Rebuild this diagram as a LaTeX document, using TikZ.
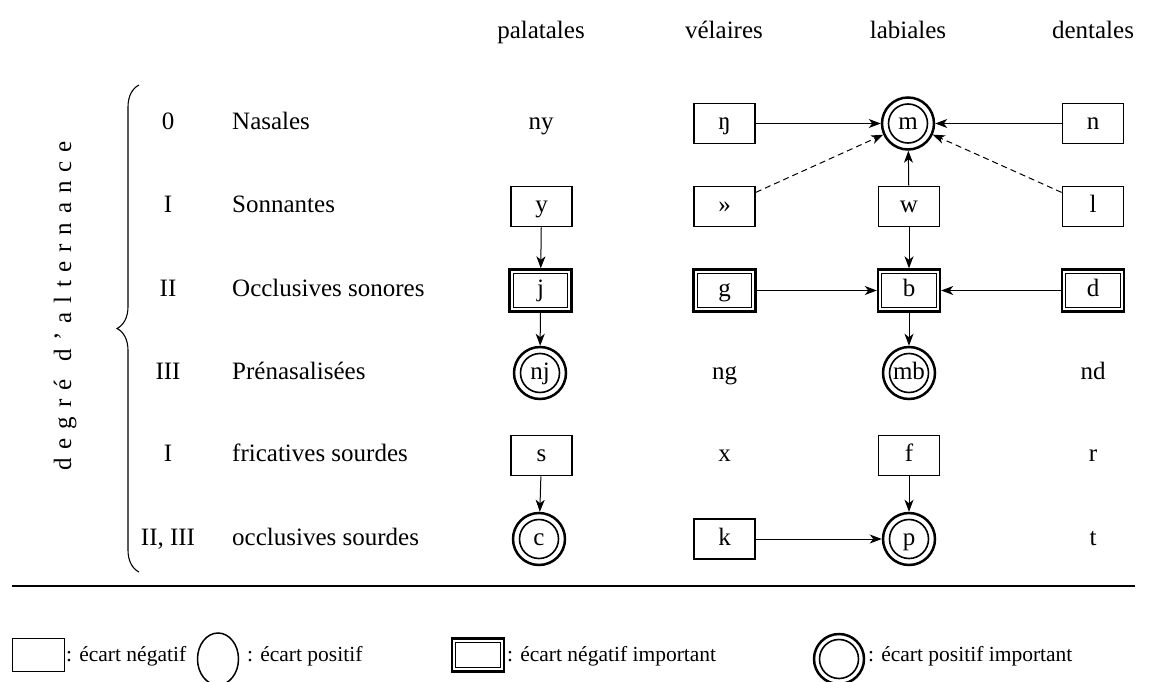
\documentclass[tikz,border=0pt]{standalone}
\usepackage{fontspec}
\setmainfont{Liberation Serif}
\usetikzlibrary{arrows.meta,decorations.pathreplacing,shapes.geometric}
\begin{document}
\begin{tikzpicture}[x=1pt,y=-1pt,
  every node/.style={font=\fontsize{25}{30}\selectfont, inner sep=0pt, text height=17pt, text depth=5pt},
  legend/.style={font=\fontsize{21.5}{26}\selectfont, anchor=west},
  sbox/.style={draw, line width=1.8pt, minimum width=61pt, minimum height=40pt},
  dbox/.style={draw, line width=2.4pt, minimum width=62pt, minimum height=42pt,
    path picture={\draw[line width=1pt]
      ([shift={(3.9pt,-3.9pt)}]path picture bounding box.north west) rectangle
      ([shift={(-3.9pt,3.9pt)}]path picture bounding box.south east);}},
  dcirc/.style={circle, draw, line width=2.5pt, minimum size=52pt,
    path picture={\draw[line width=1.6pt] (path picture bounding box.center) circle[radius=19.5pt];}},
  arr/.style={-{Stealth[length=12pt,width=9pt,inset=3.5pt]}, line width=1pt},
  darr/.style={arr, dash pattern=on 6pt off 4pt}
]
\useasboundingbox (0,0) rectangle (1151,682);

% column headings
\node (hp) at (541,33) {palatales};
\node (hv) at (724,33) {vélaires};
\node (hl) at (908,33) {labiales};
\node (hd) at (1093,33) {dentales};

% row numbers and names
\node (n0) at (168,123.5) {0};
\node (n1) at (168,206.5) {I};
\node (n2) at (168,290.5) {II};
\node (n3) at (168,373) {III};
\node (n4) at (168,455.5) {I};
\node (n5) at (168,539) {II, III};
\node[anchor=west] (t0) at (232,123.5) {Nasales};
\node[anchor=west] (t1) at (232,206.5) {Sonnantes};
\node[anchor=west] (t2) at (232,290.5) {Occlusives sonores};
\node[anchor=west] (t3) at (232,373) {Prénasalisées};
\node[anchor=west] (t4) at (232,455.5) {fricatives sourdes};
\node[anchor=west] (t5) at (232,539) {occlusives sourdes};

% vertical title and brace
\node[rotate=90] (deg) at (65,306) {\spaceskip=8.8pt\relax d e g r é \ d ’ a l t e r n a n c e};
\draw[decorate, decoration={brace, amplitude=22pt}, line width=1.1pt] (139,572) -- (139,85);

% row 0
\node (p0) at (541,123.5) {ny};
\node[sbox] (v0) at (724.5,123.5) {ŋ};
\node[dcirc] (l0) at (908,123.5) {m};
\node[sbox] (d0) at (1093,123.5) {n};
% row 1
\node[sbox] (p1) at (541.5,206.5) {y};
\node[sbox] (v1) at (724.5,206.5) {»};
\node[sbox] (l1) at (909,206.5) {w};
\node[sbox] (d1) at (1093,206.5) {l};
% row 2
\node[dbox] (p2) at (540.5,290.5) {j};
\node[dbox] (v2) at (724.5,290.5) {g};
\node[dbox] (l2) at (909,290.5) {b};
\node[dbox] (d2) at (1093,290.5) {d};
% row 3
\node[dcirc] (p3) at (540,373) {nj};
\node (v3) at (724.5,373) {ng};
\node[dcirc] (l3) at (909,373) {mb};
\node (d3) at (1093,373) {nd};
% row 4
\node[sbox] (p4) at (541.5,455.5) {s};
\node (v4) at (724.5,455.5) {x};
\node[sbox] (l4) at (909,455.5) {f};
\node (d4) at (1093,455.5) {r};
% row 5
\node[dcirc] (p5) at (539,539) {c};
\node[sbox] (v5) at (724.5,539) {k};
\node[dcirc] (l5) at (909,539) {p};
\node (d5) at (1093,539) {t};

% alternations
\draw[arr] (v0) -- (l0);
\draw[arr] (d0) -- (l0);
\draw[arr] (l1) -- (l0);
\draw[darr] (v1) -- (l0);
\draw[darr] (d1) -- (l0);
\draw[arr] (p1) -- (p2);
\draw[arr] (p2) -- (p3);
\draw[arr] (l1) -- (l2);
\draw[arr] (v2) -- (l2);
\draw[arr] (d2) -- (l2);
\draw[arr] (l2) -- (l3);
\draw[arr] (p4) -- (p5);
\draw[arr] (l4) -- (l5);
\draw[arr] (v5) -- (l5);

% separator
\draw[line width=1.5pt] (12,586) -- (1135,586);

% legend
\node[sbox, minimum width=52pt, minimum height=33pt] (k1) at (38.5,655) {};
\node[legend] (k1t) at (66,655) {: écart négatif};
\node[draw, ellipse, line width=1.5pt, minimum width=41pt, minimum height=52pt] (k2) at (218,659) {};
\node[legend] (k2t) at (247,655) {: écart positif};
\node[dbox, minimum width=52pt, minimum height=33pt] (k3) at (478,655) {};
\node[legend] (k3t) at (507,655) {: écart négatif important};
\node[dcirc, minimum size=50pt] (k4) at (839,659) {};
\node[legend] (k4t) at (868,655) {: écart positif important};
\end{tikzpicture}
\end{document}
